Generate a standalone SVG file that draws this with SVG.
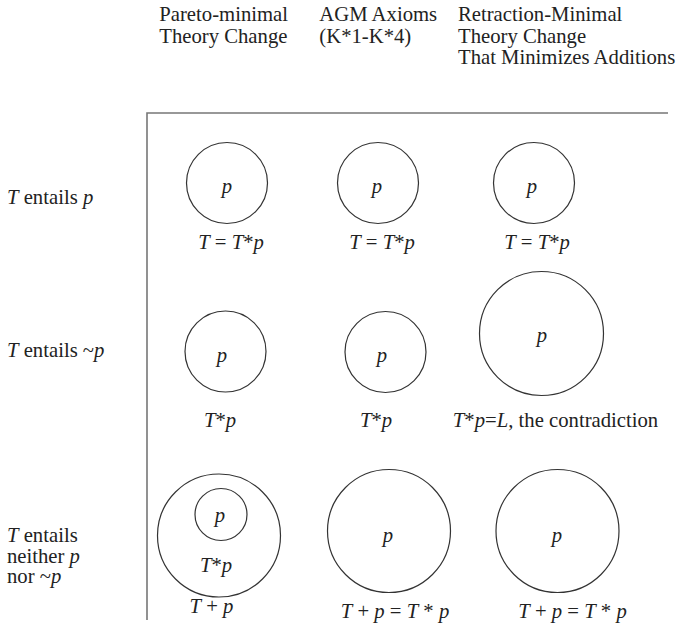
<svg xmlns="http://www.w3.org/2000/svg" width="683" height="630" viewBox="0 0 683 630">
<style>
text{font-family:'Liberation Serif','Times New Roman',serif;font-size:20.7px;fill:#222}
.i{font-style:italic}
.m{text-anchor:middle}
circle{fill:none;stroke:#333;stroke-width:1.2}
.ax{stroke:#777;stroke-width:1.6;fill:none}
</style>
<rect width="683" height="630" fill="#fff"/>
<g id="headers">
<text x="159.3" y="21">Pareto-minimal</text>
<text x="159.3" y="42.5">Theory Change</text>
<text x="319.3" y="21">AGM Axioms</text>
<text x="319.3" y="42.5">(K*1-K*4)</text>
<text x="458" y="21">Retraction-Minimal</text>
<text x="458" y="42.5">Theory Change</text>
<text x="458" y="64">That Minimizes Additions</text>
</g>
<g id="rowlabels">
<text x="7" y="204"><tspan class="i">T</tspan> entails <tspan class="i">p</tspan></text>
<text x="7" y="357"><tspan class="i">T</tspan> entails ~<tspan class="i">p</tspan></text>
<text x="7" y="542"><tspan class="i">T</tspan> entails</text>
<text x="7" y="563">neither <tspan class="i">p</tspan></text>
<text x="7" y="583">nor ~<tspan class="i">p</tspan></text>
</g>
<g id="connectors">
<path class="ax" d="M147,620 V113 H668"/>
</g>
<g id="n11"><circle cx="227" cy="183" r="40.5"/><text class="m i" x="227" y="193">p</text><text class="m" x="231" y="249"><tspan class="i">T</tspan> = <tspan class="i">T</tspan>*<tspan class="i">p</tspan></text></g>
<g id="n12"><circle cx="378" cy="183" r="40.5"/><text class="m i" x="377" y="193">p</text><text class="m" x="382" y="249"><tspan class="i">T</tspan> = <tspan class="i">T</tspan>*<tspan class="i">p</tspan></text></g>
<g id="n13"><circle cx="534" cy="183" r="40.5"/><text class="m i" x="532" y="193">p</text><text class="m" x="537" y="249"><tspan class="i">T</tspan> = <tspan class="i">T</tspan>*<tspan class="i">p</tspan></text></g>
<g id="n21"><circle cx="225.5" cy="351.5" r="40.5"/><text class="m i" x="222" y="362">p</text><text class="m" x="220" y="427"><tspan class="i">T</tspan>*<tspan class="i">p</tspan></text></g>
<g id="n22"><circle cx="385.5" cy="352" r="40.5"/><text class="m i" x="382" y="362">p</text><text class="m" x="376" y="427"><tspan class="i">T</tspan>*<tspan class="i">p</tspan></text></g>
<g id="n23"><circle cx="541.5" cy="333.5" r="62"/><text class="m i" x="542" y="342">p</text><text class="m" x="555.5" y="427"><tspan class="i">T</tspan>*<tspan class="i">p</tspan>=<tspan class="i">L</tspan>, the contradiction</text></g>
<g id="n31"><circle cx="219" cy="535.5" r="61.5"/><circle cx="221" cy="514.5" r="26"/><text class="m i" x="220" y="522">p</text><text class="m" x="216" y="572"><tspan class="i">T</tspan>*<tspan class="i">p</tspan></text><text class="m" x="211.5" y="613"><tspan class="i">T</tspan> + <tspan class="i">p</tspan></text></g>
<g id="n32"><circle cx="389" cy="531" r="61.5"/><text class="m i" x="388" y="542">p</text><text class="m" x="395" y="618"><tspan class="i">T</tspan> + <tspan class="i">p</tspan> = <tspan class="i">T</tspan> * <tspan class="i">p</tspan></text></g>
<g id="n33"><circle cx="557.5" cy="531" r="61.5"/><text class="m i" x="557" y="542">p</text><text class="m" x="572.5" y="618"><tspan class="i">T</tspan> + <tspan class="i">p</tspan> = <tspan class="i">T</tspan> * <tspan class="i">p</tspan></text></g>
</svg>
